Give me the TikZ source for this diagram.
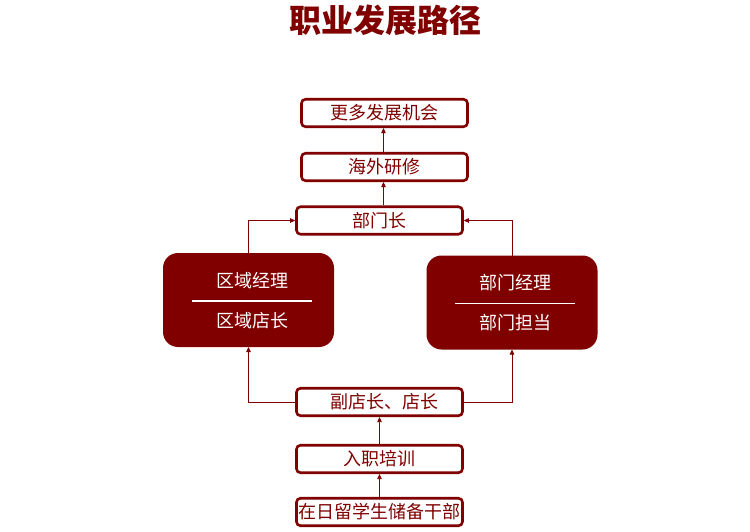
\documentclass[tikz,border=0pt]{standalone}
\usepackage{fontspec}
\setmainfont{Noto Sans CJK SC}
\usetikzlibrary{arrows.meta}
\definecolor{maroon}{HTML}{800000}
\tikzset{
  stepbox/.style={draw=maroon, line width=2.6pt, rounded corners=4pt, fill=white,
    minimum width=166pt, minimum height=27.5pt, inner sep=0pt, outer sep=1.3pt,
    text=maroon, font=\fontsize{18pt}{21pt}\selectfont},
  bigbox/.style={fill=maroon, rounded corners=15pt, minimum width=171pt, minimum height=94pt,
    inner sep=0pt, outer sep=0pt},
  whitetext/.style={text=white, font=\fontsize{18pt}{21pt}\selectfont, inner sep=0pt},
  conn/.style={draw=maroon, line width=0.8pt, -{Triangle[length=5pt,width=4.5pt]}},
}
\begin{document}
\begin{tikzpicture}[x=1pt,y=-1pt]
\useasboundingbox (0,0) rectangle (750,532);
\node[text=maroon, font=\fontsize{32pt}{35pt}\selectfont\bfseries] (title) at (385,20) {职业发展路径};

\node[stepbox] (gd) at (384.5,113) {更多发展机会};
\node[stepbox] (hw) at (384.5,167) {海外研修};
\node[stepbox] (bmz) at (379.5,220.5) {部门长};
\node[stepbox, text width=166pt, align=center] (fdz) at (379.5,402) {\hspace*{9pt}副店长、店长};
\node[stepbox] (rz) at (379.5,459) {入职培训};
\node[stepbox] (zr) at (379.5,512) {在日留学生储备干部};

\node[bigbox] (qy) at (248.5,300) {};
\node[whitetext] (qyjl) at (252,281) {区域经理};
\node[whitetext] (qydz) at (252,321) {区域店长};
\draw[white, line width=1.8pt] (192,301) -- (312,301);

\node[bigbox] (bm) at (512,302.5) {};
\node[whitetext] (bmjl) at (515,283) {部门经理};
\node[whitetext] (bmdd) at (515,323) {部门担当};
\draw[white, line width=1.8pt] (455,303.5) -- (575,303.5);

\draw[conn] (zr) -- (rz);
\draw[conn] (rz) -- (fdz);
\draw[conn] (fdz.west) -| (qy.south);
\draw[conn] (fdz.east) -| (bm.south);
\draw[conn] (qy.north) |- (bmz.west);
\draw[conn] (bm.north) |- (bmz.east);
\draw[conn] ([xshift=4pt]bmz.north) -- ([xshift=-1pt]hw.south);
\draw[conn] ([xshift=-1pt]hw.north) -- ([xshift=-1pt]gd.south);
\end{tikzpicture}
\end{document}
